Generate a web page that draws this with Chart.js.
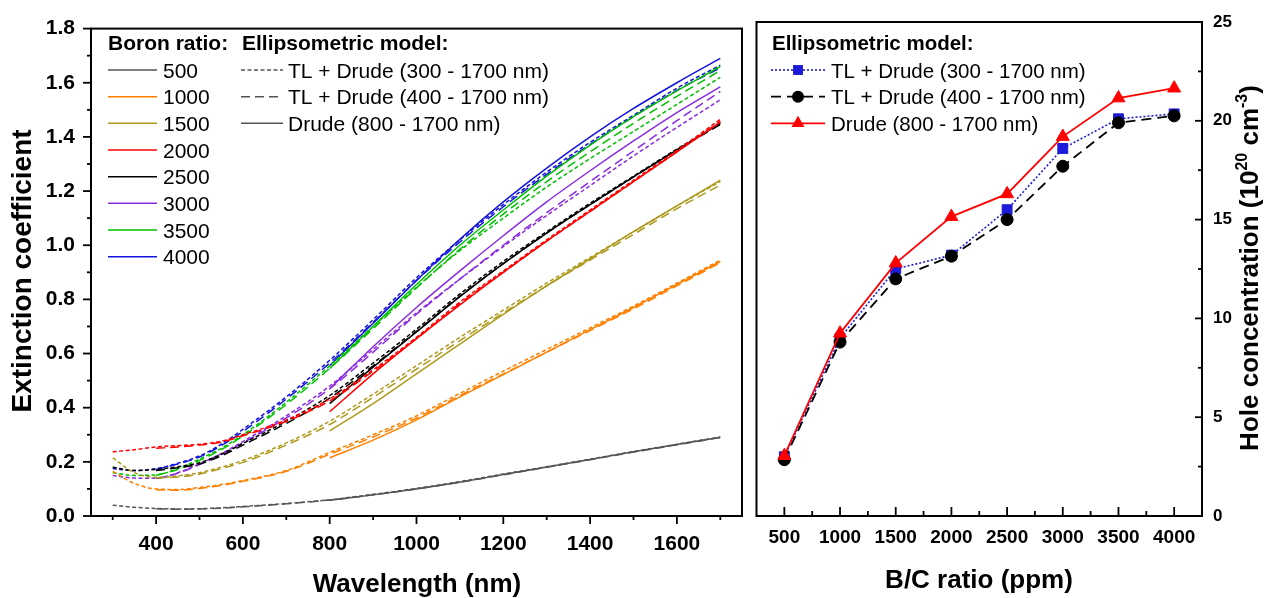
<!DOCTYPE html>
<html lang="en">
<head>
<meta charset="UTF-8">
<title>Extinction coefficient and hole concentration</title>
<script src="https://cdn.jsdelivr.net/npm/chart.js"></script>
<style>
  body { margin: 0; background: #fff; }
  #wrap { position: relative; width: 1282px; height: 598px; }
  #left { position: absolute; left: 0; top: 0; }
  #right { position: absolute; left: 748px; top: 0; }
</style>
</head>
<body>
<div id="wrap">
  <canvas id="left" width="748" height="598"></canvas>
  <canvas id="right" width="534" height="598"></canvas>
</div>
<script>
  // ---- left panel data: extinction coefficient vs wavelength ----
  const boronRatios = ['500', '1000', '1500', '2000', '2500', '3000', '3500', '4000'];

  const wlTL300 = [300, 350, 400, 450, 500, 550, 600, 700, 800, 900, 1000, 1100, 1200, 1300, 1400, 1500, 1600, 1700];
  const wlTL400 = [400, 450, 500, 550, 600, 700, 800, 900, 1000, 1100, 1200, 1300, 1400, 1500, 1600, 1700];
  const wlDrude = [800, 900, 1000, 1100, 1200, 1300, 1400, 1500, 1600, 1700];

  // one row per boron ratio, same order as boronRatios
  const kTL300 = [
    [0.040, 0.032, 0.028, 0.026, 0.027, 0.030, 0.035, 0.046, 0.060, 0.080, 0.102, 0.127, 0.155, 0.182, 0.210, 0.238, 0.265, 0.292],
    [0.165, 0.120, 0.100, 0.098, 0.105, 0.116, 0.131, 0.168, 0.235, 0.300, 0.370, 0.453, 0.535, 0.615, 0.695, 0.775, 0.860, 0.945],
    [0.215, 0.160, 0.143, 0.148, 0.160, 0.180, 0.205, 0.270, 0.350, 0.450, 0.555, 0.660, 0.760, 0.860, 0.955, 1.050, 1.145, 1.235],
    [0.237, 0.245, 0.255, 0.260, 0.265, 0.276, 0.300, 0.355, 0.432, 0.540, 0.660, 0.790, 0.905, 1.020, 1.130, 1.240, 1.350, 1.465],
    [0.180, 0.168, 0.172, 0.182, 0.197, 0.228, 0.268, 0.350, 0.445, 0.565, 0.690, 0.820, 0.940, 1.050, 1.155, 1.255, 1.355, 1.450],
    [0.150, 0.140, 0.139, 0.160, 0.193, 0.230, 0.275, 0.370, 0.480, 0.615, 0.750, 0.875, 0.995, 1.110, 1.220, 1.330, 1.435, 1.537],
    [0.160, 0.150, 0.152, 0.175, 0.210, 0.250, 0.300, 0.420, 0.555, 0.700, 0.845, 0.980, 1.100, 1.215, 1.320, 1.420, 1.520, 1.620],
    [0.175, 0.168, 0.175, 0.195, 0.222, 0.265, 0.320, 0.440, 0.575, 0.725, 0.880, 1.020, 1.150, 1.270, 1.380, 1.480, 1.580, 1.665]
  ];
  const kTL400 = [
    [0.027, 0.025, 0.026, 0.029, 0.034, 0.045, 0.059, 0.078, 0.100, 0.125, 0.152, 0.180, 0.208, 0.236, 0.263, 0.290],
    [0.097, 0.095, 0.102, 0.113, 0.128, 0.165, 0.228, 0.292, 0.362, 0.445, 0.525, 0.605, 0.685, 0.765, 0.850, 0.935],
    [0.140, 0.144, 0.155, 0.175, 0.198, 0.262, 0.338, 0.438, 0.542, 0.648, 0.750, 0.850, 0.945, 1.040, 1.135, 1.222],
    [0.250, 0.255, 0.262, 0.273, 0.296, 0.350, 0.425, 0.535, 0.655, 0.785, 0.900, 1.015, 1.125, 1.235, 1.345, 1.458],
    [0.168, 0.178, 0.192, 0.222, 0.262, 0.342, 0.435, 0.555, 0.682, 0.812, 0.932, 1.045, 1.150, 1.252, 1.352, 1.445],
    [0.138, 0.158, 0.190, 0.226, 0.270, 0.362, 0.470, 0.605, 0.745, 0.875, 1.000, 1.120, 1.235, 1.348, 1.460, 1.568],
    [0.150, 0.172, 0.205, 0.245, 0.295, 0.412, 0.545, 0.692, 0.842, 0.985, 1.115, 1.235, 1.345, 1.450, 1.550, 1.645],
    [0.172, 0.192, 0.218, 0.260, 0.312, 0.432, 0.565, 0.715, 0.870, 1.012, 1.142, 1.262, 1.372, 1.475, 1.572, 1.655]
  ];
  const kDrude = [
    [0.058, 0.078, 0.100, 0.125, 0.153, 0.181, 0.209, 0.237, 0.264, 0.290],
    [0.215, 0.280, 0.355, 0.440, 0.522, 0.605, 0.688, 0.770, 0.855, 0.940],
    [0.314, 0.415, 0.525, 0.635, 0.745, 0.850, 0.950, 1.050, 1.145, 1.240],
    [0.385, 0.525, 0.655, 0.780, 0.900, 1.015, 1.125, 1.235, 1.345, 1.455],
    [0.415, 0.550, 0.680, 0.810, 0.932, 1.045, 1.150, 1.252, 1.352, 1.450],
    [0.470, 0.625, 0.770, 0.905, 1.035, 1.160, 1.275, 1.385, 1.490, 1.585],
    [0.545, 0.700, 0.855, 1.000, 1.130, 1.255, 1.370, 1.475, 1.570, 1.660],
    [0.555, 0.712, 0.870, 1.022, 1.160, 1.285, 1.400, 1.505, 1.600, 1.690]
  ];

  const xTicksLeft = [400, 600, 800, 1000, 1200, 1400, 1600];
  const yTicksLeft = [0, 0.2, 0.4, 0.6, 0.8, 1.0, 1.2, 1.4, 1.6, 1.8];

  // ---- right panel data: hole concentration vs B/C ratio ----
  const bcRatio = [500, 1000, 1500, 2000, 2500, 3000, 3500, 4000];
  const holeTL300 = [3.0, 9.0, 12.5, 13.2, 15.5, 18.6, 20.1, 20.35];
  const holeTL400 = [2.85, 8.8, 12.0, 13.15, 15.0, 17.7, 19.9, 20.25];
  const holeDrude = [3.05, 9.25, 12.8, 15.15, 16.3, 19.2, 21.15, 21.65];

  const xTicksRight = [500, 1000, 1500, 2000, 2500, 3000, 3500, 4000];
  const yTicksRight = [0, 5, 10, 15, 20, 25];

  const modelNames = ['TL + Drude (300 - 1700 nm)', 'TL + Drude (400 - 1700 nm)', 'Drude (800 - 1700 nm)'];

  // styles
  const ratioColors = ['#555555', '#ff8000', '#ad9a1e', '#ff0000', '#000000', '#8a2be2', '#00c000', '#1414dc'];
  const modelDash = [[4, 2.5], [9, 5], []];
  const FONT = "'Liberation Sans', Arial, sans-serif";

  function pts(xs, ys) {
    return xs.map((x, i) => ({ x: x, y: ys[i] }));
  }

  const leftSets = [];
  boronRatios.forEach((r, i) => {
    [[wlTL300, kTL300], [wlTL400, kTL400], [wlDrude, kDrude]].forEach((m, j) => {
      leftSets.push({
        label: r + ' ' + modelNames[j],
        data: pts(m[0], m[1][i]),
        borderColor: ratioColors[i],
        borderWidth: 1.5,
        borderDash: modelDash[j],
        pointRadius: 0,
        fill: false,
        cubicInterpolationMode: 'monotone'
      });
    });
  });

  function tickMarks(ctx, scale, vals, horiz, base, len) {
    vals.forEach(v => {
      const p = scale.getPixelForValue(v);
      ctx.beginPath();
      if (horiz) { ctx.moveTo(p, base); ctx.lineTo(p, base + len); }
      else { ctx.moveTo(base, p); ctx.lineTo(base + len, p); }
      ctx.stroke();
    });
  }

  function range(a, b, s) {
    const out = [];
    for (let v = a; v <= b + 1e-9; v += s) out.push(+v.toFixed(4));
    return out;
  }

  const leftDecor = {
    id: 'leftDecor',
    afterDraw(chart) {
      const { ctx, chartArea: a, scales: { x, y } } = chart;
      ctx.save();
      ctx.strokeStyle = '#000';
      ctx.lineWidth = 2;
      ctx.strokeRect(a.left, a.top, a.right - a.left, a.bottom - a.top);
      ctx.lineWidth = 1.8;
      tickMarks(ctx, x, xTicksLeft, true, a.bottom, 8);
      tickMarks(ctx, x, range(300, 1700, 200), true, a.bottom, 4);
      tickMarks(ctx, y, yTicksLeft, false, a.left, -8);
      tickMarks(ctx, y, range(0.1, 1.7, 0.2), false, a.left, -4);

      // axis titles
      ctx.fillStyle = '#000';
      ctx.font = 'bold 26px ' + FONT;
      ctx.textAlign = 'center';
      ctx.textBaseline = 'alphabetic';
      ctx.fillText('Wavelength (nm)', 417, 592);
      ctx.save();
      ctx.translate(31, 271);
      ctx.rotate(-Math.PI / 2);
      ctx.font = 'bold 28px ' + FONT;
      ctx.fillText('Extinction coefficient', 0, 0);
      ctx.restore();

      // legend
      ctx.textAlign = 'left';
      ctx.font = 'bold 21px ' + FONT;
      ctx.fillText('Boron ratio:', 108, 50);
      ctx.fillText('Ellipsometric model:', 242, 50);
      ctx.font = '21px ' + FONT;
      ctx.lineWidth = 1.5;
      boronRatios.forEach((r, i) => {
        const yy = 70 + i * 26.67;
        ctx.strokeStyle = ratioColors[i];
        ctx.setLineDash([]);
        ctx.beginPath(); ctx.moveTo(108, yy); ctx.lineTo(157, yy); ctx.stroke();
        ctx.fillText(r, 163, yy + 7.5);
      });
      modelNames.forEach((n, j) => {
        const yy = 70 + j * 26.67;
        ctx.strokeStyle = '#555';
        ctx.setLineDash(modelDash[j]);
        ctx.beginPath(); ctx.moveTo(241, yy); ctx.lineTo(283, yy); ctx.stroke();
        ctx.fillText(n, 288, yy + 7.5);
      });
      ctx.restore();
    }
  };

  const tickFont = (s) => ({ family: FONT, size: s, weight: 'bold' });

  new Chart(document.getElementById('left').getContext('2d'), {
    type: 'line',
    data: { datasets: leftSets },
    options: {
      responsive: false,
      animation: false,
      layout: { padding: { left: 0, right: 6, top: 23, bottom: 0 } },
      plugins: { legend: { display: false }, tooltip: { enabled: false } },
      scales: {
        x: {
          type: 'linear', min: 250, max: 1750,
          grid: { display: false, drawTicks: false },
          border: { display: false },
          afterBuildTicks: s => { s.ticks = xTicksLeft.map(v => ({ value: v })); },
          afterFit: s => { s.height = 82; },
          ticks: { padding: 16, color: '#000', font: tickFont(21), callback: v => String(v) }
        },
        y: {
          type: 'linear', min: 0, max: 1.8,
          grid: { display: false, drawTicks: false },
          border: { display: false },
          afterBuildTicks: s => { s.ticks = yTicksLeft.map(v => ({ value: v })); },
          afterFit: s => { s.width = 91; },
          ticks: { padding: 16, color: '#000', font: tickFont(21), callback: v => v.toFixed(1) }
        }
      }
    },
    plugins: [leftDecor]
  });

  // ---- right panel ----
  const rightStyles = [
    { color: '#1c1cd8', dash: [2, 2], style: 'rect', r: 7, w: 1.6 },
    { color: '#000000', dash: [10, 6], style: 'circle', r: 6, w: 1.8 },
    { color: '#ff0000', dash: [], style: 'triangle', r: 7.5, w: 1.8 }
  ];
  const holeSeries = [holeTL300, holeTL400, holeDrude];

  const rightSets = holeSeries.map((vals, j) => ({
    label: modelNames[j],
    data: pts(bcRatio, vals),
    borderColor: rightStyles[j].color,
    backgroundColor: rightStyles[j].color,
    borderWidth: rightStyles[j].w,
    borderDash: rightStyles[j].dash,
    pointStyle: rightStyles[j].style,
    pointRadius: rightStyles[j].r,
    pointBorderWidth: 1,
    pointBackgroundColor: rightStyles[j].color,
    pointBorderColor: rightStyles[j].color,
    tension: 0,
    order: 2 - j
  }));

  function marker(ctx, st, x, y) {
    ctx.save();
    ctx.setLineDash([]);
    ctx.fillStyle = st.color;
    ctx.beginPath();
    if (st.style === 'rect') {
      const h = st.r * Math.SQRT1_2;
      ctx.rect(x - h, y - h, 2 * h, 2 * h);
    } else if (st.style === 'circle') {
      ctx.arc(x, y, st.r, 0, Math.PI * 2);
    } else {
      const r = st.r;
      ctx.moveTo(x, y - r);
      ctx.lineTo(x + r * 0.866, y + r * 0.5);
      ctx.lineTo(x - r * 0.866, y + r * 0.5);
      ctx.closePath();
    }
    ctx.fill();
    ctx.restore();
  }

  const rightDecor = {
    id: 'rightDecor',
    afterDraw(chart) {
      const { ctx, chartArea: a, scales: { x, y } } = chart;
      ctx.save();
      ctx.strokeStyle = '#000';
      ctx.lineWidth = 2;
      ctx.strokeRect(a.left, a.top, a.right - a.left, a.bottom - a.top);
      ctx.lineWidth = 1.8;
      tickMarks(ctx, x, xTicksRight, true, a.bottom, -9);
      tickMarks(ctx, x, range(750, 3750, 500), true, a.bottom, -5);
      tickMarks(ctx, y, yTicksRight, false, a.right, -7);
      tickMarks(ctx, y, range(2.5, 22.5, 5), false, a.right, -4);

      ctx.fillStyle = '#000';
      ctx.font = 'bold 26px ' + FONT;
      ctx.textAlign = 'center';
      ctx.textBaseline = 'alphabetic';
      ctx.fillText('B/C ratio (ppm)', 231, 588);

      // rotated right title with superscripts
      const parts = [
        ['Hole concentration (10', 26, 0],
        ['20', 16, -11],
        [' cm', 26, 0],
        ['-3', 16, -11],
        [')', 26, 0]
      ];
      let total = 0;
      parts.forEach(p => { ctx.font = 'bold ' + p[1] + 'px ' + FONT; total += ctx.measureText(p[0]).width; });
      ctx.save();
      ctx.translate(510, 268);
      ctx.rotate(-Math.PI / 2);
      ctx.textAlign = 'left';
      let cx = -total / 2;
      parts.forEach(p => {
        ctx.font = 'bold ' + p[1] + 'px ' + FONT;
        ctx.fillText(p[0], cx, p[2]);
        cx += ctx.measureText(p[0]).width;
      });
      ctx.restore();

      // legend
      ctx.textAlign = 'left';
      ctx.font = 'bold 20.5px ' + FONT;
      ctx.fillText('Ellipsometric model:', 24, 50);
      ctx.font = '20.5px ' + FONT;
      modelNames.forEach((n, j) => {
        const yy = 70 + j * 26.67;
        const st = rightStyles[j];
        ctx.strokeStyle = st.color;
        ctx.lineWidth = st.w;
        ctx.setLineDash(st.dash);
        ctx.beginPath(); ctx.moveTo(23, yy); ctx.lineTo(77, yy); ctx.stroke();
        marker(ctx, st, 50, yy);
        ctx.fillStyle = '#000';
        ctx.fillText(n, 83, yy + 7.5);
      });
      ctx.restore();
    }
  };

  new Chart(document.getElementById('right').getContext('2d'), {
    type: 'line',
    data: { datasets: rightSets },
    options: {
      responsive: false,
      animation: false,
      layout: { padding: { left: 7, right: 0, top: 22, bottom: 0 } },
      plugins: { legend: { display: false }, tooltip: { enabled: false } },
      scales: {
        x: {
          type: 'linear', min: 250, max: 4250,
          grid: { display: false, drawTicks: false },
          border: { display: false },
          afterBuildTicks: s => { s.ticks = xTicksRight.map(v => ({ value: v })); },
          afterFit: s => { s.height = 82; },
          ticks: { padding: 10, color: '#000', font: tickFont(19), callback: v => String(v) }
        },
        y: {
          type: 'linear', position: 'right', min: 0, max: 25,
          grid: { display: false, drawTicks: false },
          border: { display: false },
          afterBuildTicks: s => { s.ticks = yTicksRight.map(v => ({ value: v })); },
          afterFit: s => { s.width = 80; },
          ticks: { padding: 11, color: '#000', font: tickFont(17), callback: v => String(v) }
        }
      }
    },
    plugins: [rightDecor]
  });
</script>
</body>
</html>
